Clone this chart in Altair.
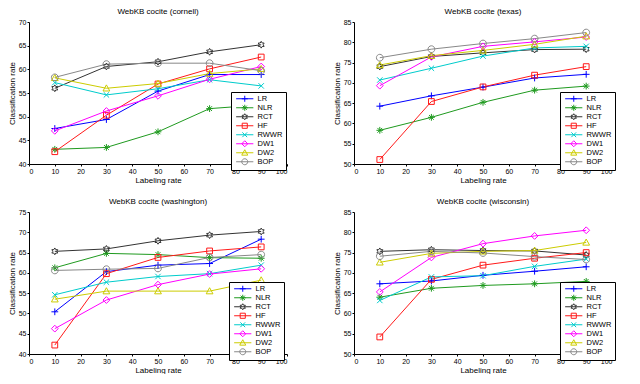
import math
import altair as alt
import pandas as pd

methods = ["LR", "NLR", "RCT", "HF", "RWWR", "DW1", "DW2", "BOP"]
rates = [10, 30, 50, 70, 90]
x_ticks = [0, 10, 20, 30, 40, 50, 60, 70, 80, 90, 100]

cornell = [
    [47.5, 49.4, 55.4, 58.9, 58.9],
    [43.1, 43.5, 46.8, 51.7, 52.5],
    [56.0, 60.6, 61.6, 63.7, 65.2],
    [42.6, 50.3, 56.9, 60.1, 62.6],
    [57.2, 54.6, 55.9, 57.8, 56.5],
    [47.0, 51.2, 54.4, 57.9, 60.6],
    [58.2, 56.0, 57.0, 59.1, 60.1],
    [58.3, 61.1, 61.3, 61.3, 59.7],
]
texas = [
    [64.25, 66.8, 68.95, 71.2, 72.1],
    [58.3, 61.5, 65.2, 68.2, 69.2],
    [74.0, 76.5, 77.4, 78.2, 78.3],
    [51.1, 65.4, 69.0, 71.9, 74.0],
    [70.7, 73.6, 76.6, 78.6, 79.0],
    [69.3, 76.4, 79.0, 80.1, 81.3],
    [74.4, 76.7, 78.0, 79.5, 81.5],
    [76.2, 78.3, 79.7, 80.9, 82.4],
]
washington = [
    [50.4, 60.3, 61.9, 62.3, 68.3],
    [61.25, 64.8, 64.5, 63.75, 63.6],
    [65.3, 65.9, 67.9, 69.3, 70.2],
    [42.2, 59.8, 63.8, 65.4, 66.4],
    [54.6, 57.7, 59.1, 59.8, 61.9],
    [46.25, 53.3, 57.1, 59.7, 61.0],
    [53.5, 55.5, 55.5, 55.5, 58.2],
    [60.6, 60.9, 61.1, 63.8, 64.5],
]
wisconsin = [
    [67.3, 68.0, 69.4, 70.4, 71.5],
    [64.0, 66.2, 66.9, 67.3, 67.9],
    [75.3, 75.7, 75.5, 75.4, 74.4],
    [54.2, 68.4, 71.9, 73.6, 75.0],
    [63.2, 69.0, 69.3, 71.6, 73.4],
    [65.3, 73.8, 77.2, 79.1, 80.5],
    [72.6, 74.8, 75.3, 75.5, 77.5],
    [74.1, 75.3, 74.9, 74.0, 73.3],
]

colors = ["#0000ff", "#1f9a1f", "#333333", "#ff1a1a", "#00cccc", "#ff00ff", "#cccc00", "#888888"]
widths = [1, 1, 1.6, 1, 1, 1, 1, 1]
kinds = ["plus", "star", "hexagram", "square", "x", "diamond", "triangle", "circle"]


def marker_path(kind, cx=0.0, line=None, k=1.0):
    def f(v):
        return f"{v:.3f}"
    p = ""
    if line:
        p += f"M{f(line[0])},0H{f(line[1])}"
    if kind == "plus":
        p += f"M{f(cx-k)},0H{f(cx+k)}M{f(cx)},{f(-k)}V{f(k)}"
    elif kind == "star":
        p += f"M{f(cx-k)},0H{f(cx+k)}M{f(cx)},{f(-k)}V{f(k)}"
        d = 0.7 * k
        p += f"M{f(cx-d)},{f(-d)}L{f(cx+d)},{f(d)}M{f(cx-d)},{f(d)}L{f(cx+d)},{f(-d)}"
    elif kind == "hexagram":
        pts = []
        for i in range(12):
            r = k if i % 2 == 0 else 0.58 * k
            a = math.radians(-90 + 30 * i)
            pts.append((cx + r * math.cos(a), r * math.sin(a)))
        p += "M" + "L".join(f"{f(a)},{f(b)}" for a, b in pts) + "Z"
    elif kind == "square":
        d = 0.85 * k
        p += f"M{f(cx-d)},{f(-d)}H{f(cx+d)}V{f(d)}H{f(cx-d)}Z"
    elif kind == "x":
        d = 0.8 * k
        p += f"M{f(cx-d)},{f(-d)}L{f(cx+d)},{f(d)}M{f(cx-d)},{f(d)}L{f(cx+d)},{f(-d)}"
    elif kind == "diamond":
        p += f"M{f(cx)},{f(-k)}L{f(cx+k)},0L{f(cx)},{f(k)}L{f(cx-k)},0Z"
    elif kind == "triangle":
        p += f"M{f(cx)},{f(-k)}L{f(cx+k)},{f(0.8*k)}H{f(cx-k)}Z"
    elif kind == "circle":
        p += f"M{f(cx+k)},0A{f(k)},{f(k)},0,1,1,{f(cx-k)},0A{f(k)},{f(k)},0,1,1,{f(cx+k)},0Z"
    return p


plot_paths = [marker_path(k) for k in kinds]
legend_paths = [marker_path(k, cx=3.5, line=(-0.8, 7.8), k=1.5) for k in kinds]

mk_expr = "[" + ",".join(f"'{p}'" for p in plot_paths) + "][indexof([" + ",".join(
    f"'{m}'" for m in methods) + "], datum.method)]"

FONT = "Liberation Sans"
W, H = 258, 142


def panel(title, series, ymin, ymax, w, h, lx, ly):
    rows = []
    for m, vals in zip(methods, series):
        for r, v in zip(rates, vals):
            rows.append({"rate": r, "method": m, "value": v})
    df = pd.DataFrame(rows)
    base = alt.Chart(df)
    x = alt.X("rate:Q", scale=alt.Scale(domain=[0, 100], nice=False),
              axis=alt.Axis(values=x_ticks, title="Labeling rate"))
    y = alt.Y("value:Q", scale=alt.Scale(domain=[ymin, ymax], nice=False, zero=False),
              axis=alt.Axis(values=list(range(ymin, ymax + 1, 5)), title="Classification rate"))
    cscale = alt.Scale(domain=methods, range=colors)
    leg_def = alt.Legend(
        title=None, orient="none", legendX=lx, legendY=ly,
        strokeColor="#000000", fillColor="#ffffff",
        padding=3, labelFontSize=7.5, labelFont=FONT, labelColor="#000000", labelOffset=16,
        rowPadding=-3, symbolStrokeWidth=1, symbolSize=16, symbolOpacity=1, cornerRadius=0,
    )
    color = alt.Color("method:N", scale=cscale, legend=leg_def)
    lines = base.mark_line(clip=True).encode(
        x=x, y=y, color=color,
        strokeWidth=alt.StrokeWidth("method:N", scale=alt.Scale(domain=methods, range=widths), legend=None),
    )
    pts = base.transform_calculate(mk=mk_expr).mark_point(filled=False, size=46, strokeWidth=1, opacity=1).encode(
        x=x, y=y, color=color,
        shape=alt.Shape("mk:N", scale=None, legend=None),
    )
    leg = base.transform_filter("false").mark_point(filled=False, size=16, strokeWidth=1, opacity=1).encode(
        x=x, y=y, color=color,
        shape=alt.Shape("method:N", scale=alt.Scale(domain=methods, range=legend_paths), legend=leg_def),
    )
    return alt.layer(lines, pts, leg).properties(
        width=w, height=h, title=alt.Title(title)
    )


def res(c):
    return c.resolve_scale(color="independent", shape="independent", strokeWidth="independent").resolve_legend(
        color="independent", shape="independent")


top = res(alt.hconcat(
    panel("WebKB cocite (cornell)", cornell, 40, 70, W, H, W - 56, H - 72),
    panel("WebKB cocite (texas)", texas, 50, 85, W, H, W - 52, H - 72),
    spacing=45,
))
bottom = res(alt.hconcat(
    panel("WebKB cocite (washington)", washington, 40, 75, W, H, W - 58, H - 72),
    panel("WebKB cocite (wisconsin)", wisconsin, 50, 85, W, H, W - 52, H - 72),
    spacing=45,
))

chart = res(alt.vconcat(top, bottom, spacing=14)).properties(padding=0).configure_view(
    stroke=None
).configure_axis(
    grid=False, domainColor="#000000", tickColor="#000000", labelColor="#000000", titleColor="#000000",
    labelFont=FONT, titleFont=FONT, labelFontSize=7, titleFontSize=8, titleFontWeight="normal",
    tickSize=2, labelPadding=1, titlePadding=2, domainWidth=1, tickWidth=1,
).configure_title(
    font=FONT, fontSize=8, fontWeight="normal", color="#000000", offset=2
)

chart.save("out.html", embed_options={"renderer": "svg", "actions": False})
